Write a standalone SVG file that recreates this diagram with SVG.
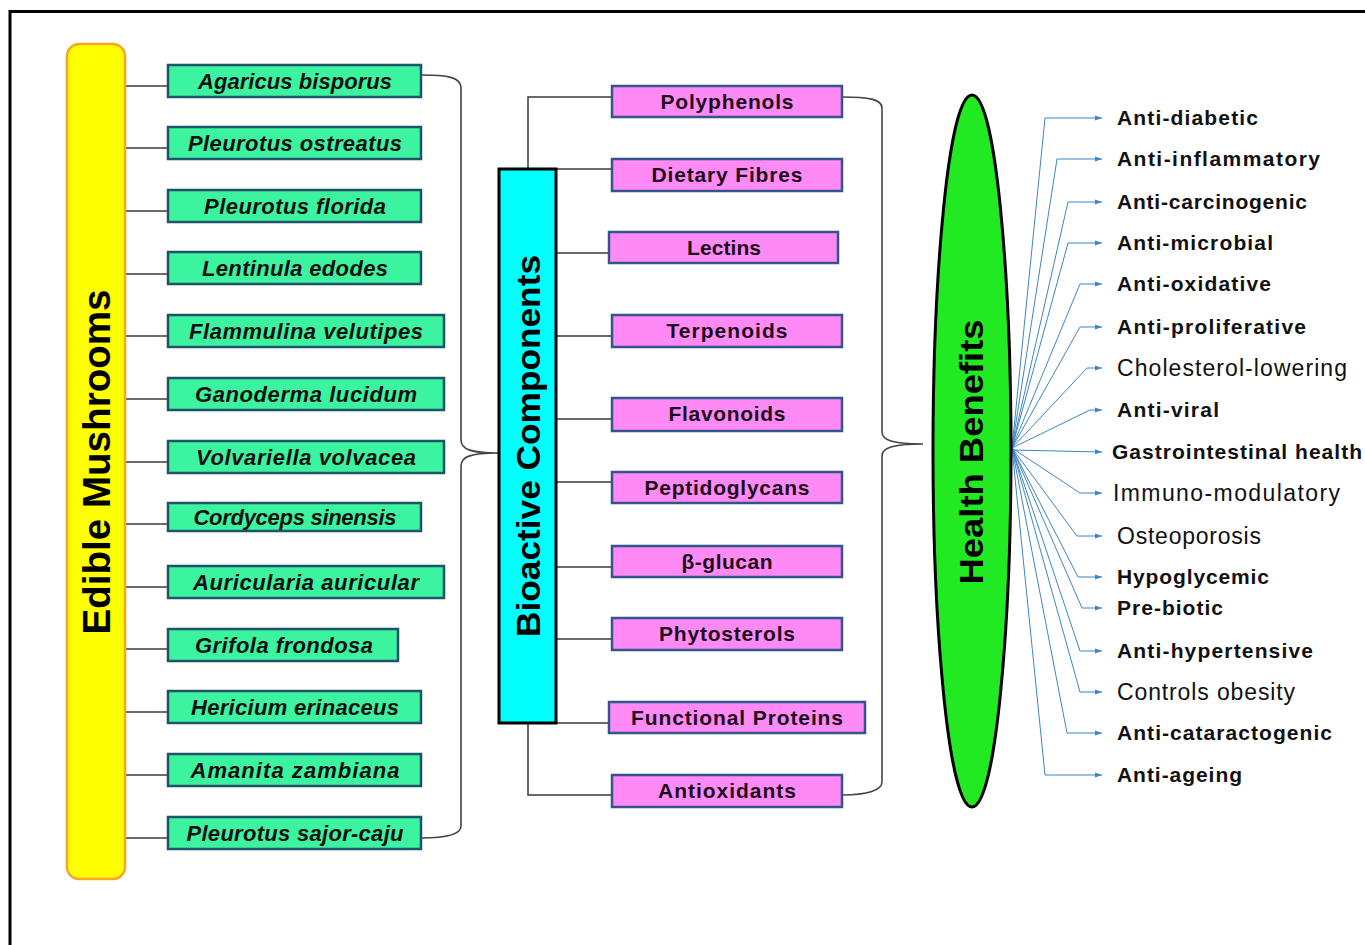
<svg xmlns="http://www.w3.org/2000/svg" width="1365" height="945" viewBox="0 0 1365 945">
<style>
.frame{stroke:#000;stroke-width:3;fill:none}
.gbox{fill:#3cf3a0;stroke:#1d5468;stroke-width:2.5}
.gtxt{font-family:"Liberation Sans",Arial,sans-serif;font-weight:bold;font-style:italic;font-size:22px;fill:#111;text-anchor:middle}
.pbox{fill:#ff8af6;stroke:#33558a;stroke-width:2.5}
.ptxt{font-family:"Liberation Sans",Arial,sans-serif;font-weight:bold;font-size:21px;fill:#1c0a1c;text-anchor:middle}
.conn{stroke:#3a3a3a;stroke-width:1.5;fill:none}
.brace{stroke:#444;stroke-width:1.6;fill:none}
.arr{stroke:#3d86c4;stroke-width:1;fill:none}
.htxt{font-family:"Liberation Sans",Arial,sans-serif;font-weight:bold;font-size:21px;fill:#111}
.hn{font-weight:normal;font-size:23px}
.big{font-family:"Liberation Sans",Arial,sans-serif;font-weight:bold;fill:#000;text-anchor:middle}
</style>
<defs>
<marker id="ah" markerWidth="7" markerHeight="6" refX="7" refY="3" orient="auto" markerUnits="userSpaceOnUse">
<path d="M0,0.5 L7,3 L0,5.5 z" fill="#3d86c4"/>
</marker>
</defs>
<rect width="1365" height="945" fill="#fff"/>
<path class="frame" d="M10,945 L10,11.5 L1365,11.5"/>

<g id="connectors">
<path class="conn" d="M125,86 H168 M125,148 H168 M125,211 H168 M125,274 H168 M125,336 H168 M125,399 H168 M125,462 H168 M125,524 H168 M125,587 H168 M125,649 H168 M125,712 H168 M125,775 H168 M125,838 H168"/>
<path class="brace" d="M421,75 C447,75 461,77 461,88 L461,440 C461,449 470,453 498,453 C470,453 461,457 461,466 L461,826 C461,834 447,838 421,838"/>
<path class="conn" d="M528,169 V97 H612 M556,169 H612 M556,253 H609 M556,336 H612 M556,419 H612 M556,482 H612 M556,567 H612 M556,639 H612 M556,723 H609 M528,723 V795 H612"/>
<path class="brace" d="M842,97 C868,97 882,99 882,108 L882,432 C882,440 892,444 923,444 C892,444 882,448 882,456 L882,782 C882,790 868,795 842,795"/>
<g id="arrows" marker-end="url(#ah)">
<polyline class="arr" points="1012,448 1045,118 1102,118"/>
<polyline class="arr" points="1012,448 1057,159 1102,159"/>
<polyline class="arr" points="1012,448 1068,202 1102,202"/>
<polyline class="arr" points="1012,448 1068,243 1102,243"/>
<polyline class="arr" points="1012,448 1080,284 1102,284"/>
<polyline class="arr" points="1012,448 1080,327 1102,327"/>
<polyline class="arr" points="1012,448 1087,368 1102,368"/>
<polyline class="arr" points="1012,448 1090,410 1102,410"/>
<polyline class="arr" points="1012,450 1102,452"/>
<polyline class="arr" points="1012,448 1080,493 1102,493"/>
<polyline class="arr" points="1012,448 1077,536 1102,536"/>
<polyline class="arr" points="1012,448 1078,577 1102,577"/>
<polyline class="arr" points="1012,448 1082,608 1102,608"/>
<polyline class="arr" points="1012,448 1080,651 1102,651"/>
<polyline class="arr" points="1012,448 1080,692 1102,692"/>
<polyline class="arr" points="1012,448 1067,733 1102,733"/>
<polyline class="arr" points="1012,448 1045,775 1102,775"/>
</g>
</g>

<g id="edible-mushrooms">
<rect x="67" y="44" width="58" height="835" rx="12" fill="#ffff00" stroke="#f5a623" stroke-width="2.5"/>
<text class="big" font-size="38" textLength="345" lengthAdjust="spacingAndGlyphs" transform="translate(110,462) rotate(-90)">Edible Mushrooms</text>
</g>

<g id="m1"><rect class="gbox" x="168" y="65" width="253" height="32"/><text class="gtxt" x="295" y="89" textLength="194">Agaricus bisporus</text></g>
<g id="m2"><rect class="gbox" x="168" y="127" width="253" height="32"/><text class="gtxt" x="295" y="151" textLength="214">Pleurotus ostreatus</text></g>
<g id="m3"><rect class="gbox" x="168" y="190" width="253" height="32"/><text class="gtxt" x="295" y="214" textLength="182">Pleurotus florida</text></g>
<g id="m4"><rect class="gbox" x="168" y="252" width="253" height="32"/><text class="gtxt" x="295" y="276" textLength="186">Lentinula edodes</text></g>
<g id="m5"><rect class="gbox" x="168" y="315" width="276" height="32"/><text class="gtxt" x="306" y="339" textLength="234">Flammulina velutipes</text></g>
<g id="m6"><rect class="gbox" x="168" y="378" width="276" height="32"/><text class="gtxt" x="306" y="402" textLength="222">Ganoderma lucidum</text></g>
<g id="m7"><rect class="gbox" x="168" y="441" width="276" height="32"/><text class="gtxt" x="306" y="465" textLength="220">Volvariella volvacea</text></g>
<g id="m8"><rect class="gbox" x="168" y="503" width="253" height="28"/><text class="gtxt" x="295" y="525" textLength="203">Cordyceps sinensis</text></g>
<g id="m9"><rect class="gbox" x="168" y="566" width="276" height="32"/><text class="gtxt" x="306" y="590" textLength="226">Auricularia auricular</text></g>
<g id="m10"><rect class="gbox" x="168" y="629" width="230" height="32"/><text class="gtxt" x="284" y="653" textLength="178">Grifola frondosa</text></g>
<g id="m11"><rect class="gbox" x="168" y="691" width="253" height="32"/><text class="gtxt" x="295" y="715" textLength="208">Hericium erinaceus</text></g>
<g id="m12"><rect class="gbox" x="168" y="754" width="253" height="32"/><text class="gtxt" x="295" y="778" textLength="209">Amanita zambiana</text></g>
<g id="m13"><rect class="gbox" x="168" y="817" width="253" height="32"/><text class="gtxt" x="295" y="841" textLength="217">Pleurotus sajor-caju</text></g>

<g id="bioactive-components">
<rect x="499" y="169" width="57" height="554" fill="#00ffff" stroke="#000" stroke-width="3"/>
<text class="big" font-size="34" textLength="382" lengthAdjust="spacingAndGlyphs" transform="translate(540,446) rotate(-90)">Bioactive Components</text>
</g>

<g id="b1"><rect class="pbox" x="612" y="86" width="230" height="31"/><text class="ptxt" x="727" y="109" textLength="133">Polyphenols</text></g>
<g id="b2"><rect class="pbox" x="612" y="159" width="230" height="32"/><text class="ptxt" x="727" y="182" textLength="151">Dietary Fibres</text></g>
<g id="b3"><rect class="pbox" x="609" y="232" width="229" height="31"/><text class="ptxt" x="724" y="255" textLength="74">Lectins</text></g>
<g id="b4"><rect class="pbox" x="612" y="315" width="230" height="32"/><text class="ptxt" x="727" y="338" textLength="121">Terpenoids</text></g>
<g id="b5"><rect class="pbox" x="612" y="398" width="230" height="33"/><text class="ptxt" x="727" y="421" textLength="117">Flavonoids</text></g>
<g id="b6"><rect class="pbox" x="612" y="472" width="230" height="31"/><text class="ptxt" x="727" y="495" textLength="165">Peptidoglycans</text></g>
<g id="b7"><rect class="pbox" x="612" y="546" width="230" height="31"/><text class="ptxt" x="727" y="569" textLength="91">β-glucan</text></g>
<g id="b8"><rect class="pbox" x="612" y="618" width="230" height="32"/><text class="ptxt" x="727" y="641" textLength="136">Phytosterols</text></g>
<g id="b9"><rect class="pbox" x="609" y="702" width="256" height="31"/><text class="ptxt" x="737" y="725" textLength="212">Functional Proteins</text></g>
<g id="b10"><rect class="pbox" x="612" y="775" width="230" height="32"/><text class="ptxt" x="727" y="798" textLength="138">Antioxidants</text></g>

<g id="health-benefits">
<path d="M972,95 C996,95 1011,280 1011,451 C1011,622 996,807 972,807 C948,807 933,622 933,451 C933,280 948,95 972,95 Z" fill="#22ea22" stroke="#000" stroke-width="3"/>
<text class="big" font-size="33" textLength="265" lengthAdjust="spacingAndGlyphs" transform="translate(983,452) rotate(-90)">Health Benefits</text>
</g>

<g id="benefits">
<text class="htxt" x="1117" y="125" textLength="141">Anti-diabetic</text>
<text class="htxt" x="1117" y="166" textLength="203">Anti-inflammatory</text>
<text class="htxt" x="1117" y="209" textLength="190">Anti-carcinogenic</text>
<text class="htxt" x="1117" y="250" textLength="156">Anti-microbial</text>
<text class="htxt" x="1117" y="291" textLength="154">Anti-oxidative</text>
<text class="htxt" x="1117" y="334" textLength="189">Anti-proliferative</text>
<text class="htxt hn" x="1117" y="376" textLength="230">Cholesterol-lowering</text>
<text class="htxt" x="1117" y="417" textLength="102">Anti-viral</text>
<text class="htxt" x="1112" y="459" textLength="250">Gastrointestinal health</text>
<text class="htxt hn" x="1113" y="501" textLength="227">Immuno-modulatory</text>
<text class="htxt hn" x="1117" y="544" textLength="144">Osteoporosis</text>
<text class="htxt" x="1117" y="584" textLength="152">Hypoglycemic</text>
<text class="htxt" x="1117" y="615" textLength="106">Pre-biotic</text>
<text class="htxt" x="1117" y="658" textLength="196">Anti-hypertensive</text>
<text class="htxt hn" x="1117" y="700" textLength="178">Controls obesity</text>
<text class="htxt" x="1117" y="740" textLength="215">Anti-cataractogenic</text>
<text class="htxt" x="1117" y="782" textLength="125">Anti-ageing</text>
</g>
</svg>
